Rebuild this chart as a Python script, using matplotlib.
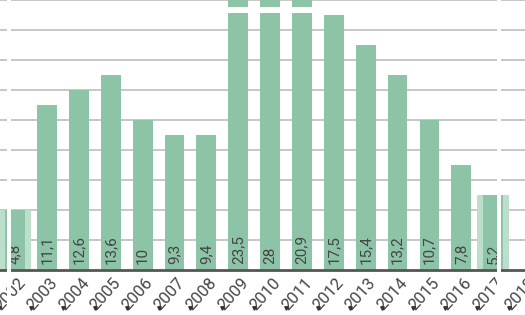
import matplotlib
matplotlib.use("Agg")
import matplotlib.pyplot as plt
import matplotlib.transforms as mtransforms
import numpy as np

# ---- data ----
years = ["2002", "2003", "2004", "2005", "2006", "2007", "2008", "2009",
         "2010", "2011", "2012", "2013", "2014", "2015", "2016", "2017", "2018"]
# bar heights as drawn (axis units, gridline every 2)
bar_heights = [4, 11, 12, 13, 10, 9, 9, 23.5, 28, 20.9, 17, 15, 13, 10, 7, 5]
# labels printed inside the bars
value_labels = ["4,8", "11,1", "12,6", "13,6", "10", "9,3", "9,4", "23,5",
                "28", "20,9", "17,5", "15,4", "13,2", "10,7", "7,8", "5,2"]

BAR = "#8dc4a7"
LIGHT = "#bcdfcc"
GRID = "#b8b8b8"
TXT = "#454545"
YMAX = 18

plt.rcParams["font.family"] = ["Roboto", "DejaVu Sans"]

fig = plt.figure(figsize=(5.25, 3.15), dpi=100)
ax = fig.add_axes([0, 45 / 315, 1, 270 / 315])

n = len(bar_heights)
x = np.arange(n)

# light "ghost" backgrounds for first and last category
ax.bar([x[0], x[-1]], [bar_heights[0], bar_heights[-1]], width=1.0,
       color=LIGHT, zorder=1, linewidth=0)
ax.bar(x, bar_heights, width=0.62, color=BAR, zorder=2, linewidth=0)

# overflow break marks for bars beyond the axis max
over = [i for i, h in enumerate(bar_heights) if h > YMAX]
ax.bar(over, [0.36] * len(over), bottom=17.15, width=0.7, color="white",
       zorder=3, linewidth=0)

for xi, lab in zip(x, value_labels):
    ax.text(xi, 0.4, lab, rotation=90, ha="center", va="bottom",
            fontsize=11, color=TXT, zorder=4)

ax.set_xlim(-0.4764, 15.505)
ax.set_ylim(0, YMAX)
ax.set_yticks(np.arange(2, YMAX + 1, 2))
ax.yaxis.grid(True, color=GRID, linewidth=1.1, zorder=0)
ax.set_axisbelow(True)
ax.tick_params(axis="y", left=False, labelleft=False)
for s in ["top", "right", "left"]:
    ax.spines[s].set_visible(False)
ax.spines["bottom"].set_color("#555555")
ax.spines["bottom"].set_linewidth(2.0)
ax.spines["bottom"].set_zorder(5)

ax.set_xticks(np.arange(len(years)))
ax.set_xticklabels(years, rotation=48, ha="right", va="top",
                   rotation_mode="anchor", fontsize=12, color=TXT)
ax.tick_params(axis="x", length=0, pad=4)
for t in ax.get_xticklabels():
    t.set_transform(t.get_transform() + mtransforms.ScaledTranslation(2 / 100, 0, fig.dpi_scale_trans))

# small marks at category boundaries near the bottom
trans = mtransforms.blended_transform_factory(ax.transData, ax.transAxes)
ax.plot(np.arange(len(years)) - 0.5, [-0.142] * len(years), linestyle="none",
        marker="v", markersize=2.5, color="#333333", transform=trans,
        clip_on=False, zorder=6)

# white vertical separators through first and last bars
for xs in [x[0] - 0.2, x[-1] + 0.19]:
    ax.axvspan(xs - 0.065, xs + 0.065, ymin=-1, ymax=2, color="white",
               zorder=7, clip_on=False, linewidth=0)

fig.savefig("out.png", dpi=100)
